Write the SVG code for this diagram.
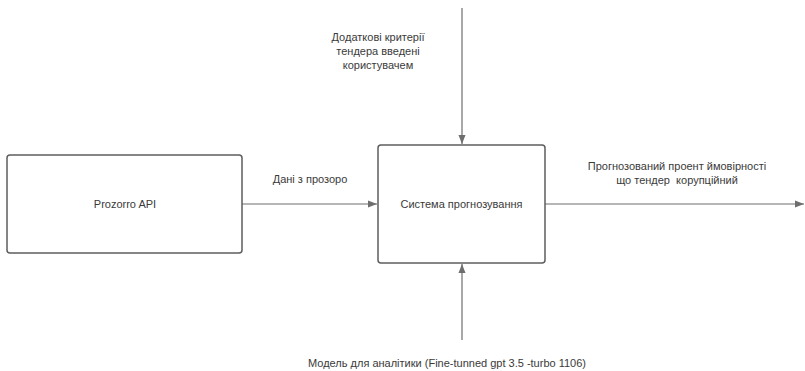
<svg xmlns="http://www.w3.org/2000/svg" width="805" height="371" viewBox="0 0 805 371">
<style>
.box{fill:#fff;stroke:#5e5e5e;stroke-width:1.5}
.ln{stroke:#6e6e6e;stroke-width:1.2;fill:none}
text{font-family:"Liberation Sans",Arial,sans-serif;font-size:11px;fill:#3a3a3a;text-anchor:middle;white-space:pre}
</style>
<defs>
<marker id="ah" markerWidth="10" markerHeight="8" refX="9" refY="4" orient="auto" markerUnits="userSpaceOnUse">
<path d="M0,0.5 L9,4 L0,7.5 Z" fill="#6e6e6e"/>
</marker>
</defs>
<rect width="805" height="371" fill="#fff"/>
<g id="connectors">
<line class="ln" x1="242" y1="204" x2="377" y2="204" marker-end="url(#ah)"/>
<line class="ln" x1="545" y1="204" x2="804" y2="204" marker-end="url(#ah)"/>
<line class="ln" x1="462" y1="8" x2="462" y2="144" marker-end="url(#ah)"/>
<line class="ln" x1="462" y1="340" x2="462" y2="264" marker-end="url(#ah)"/>
<text x="310" y="183">Дані з прозоро</text>
<text x="677" y="170">Прогнозований проент ймовірності</text>
<text x="677" y="184" xml:space="preserve">що тендер  корупційний</text>
<text x="378" y="41">Додаткові критерії</text>
<text x="378" y="55">тендера введені</text>
<text x="378" y="69">користувачем</text>
<text x="447" y="367">Модель для аналітики (Fine-tunned gpt 3.5 -turbo 1106)</text>
</g>
<g id="prozorro">
<rect class="box" x="7" y="155" width="235" height="98" rx="3"/>
<text x="125" y="208">Prozorro API</text>
</g>
<g id="system">
<rect class="box" x="378" y="145" width="167" height="118" rx="3"/>
<text x="461.500" y="208">Система прогнозування</text>
</g>
</svg>
